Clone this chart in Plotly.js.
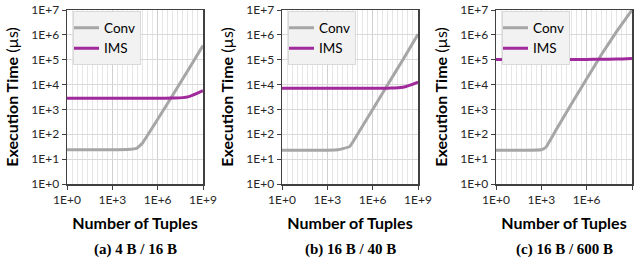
<!DOCTYPE html>
<html>
<head>
<meta charset="utf-8">
<script src="https://cdn.plot.ly/plotly-3.0.1.min.js"></script>
<style>html,body{margin:0;padding:0;background:#fff;}#chart{width:643px;height:274px;}</style>
</head>
<body>
<div id="chart"></div>
<script>
// ---- data ----
const seriesNames = ["Conv", "IMS"];
const captions = ["(a) 4 B / 16 B", "(b) 16 B / 40 B", "(c) 16 B / 600 B"];

const tuplesA = [1, 10, 100, 1e3, 1e4, 4e4, 1e5, 1e6, 1e7, 1e8, 1e9];
const convA   = [24, 24, 24, 24, 24.5, 27, 45, 400, 3800, 37000, 370000];
const imsXA   = [1, 10, 100, 1e3, 1e4, 1e5, 1e6, 1e7, 1e8, 1e9];
const imsA    = [2800, 2800, 2800, 2800, 2800, 2800, 2800, 2850, 3200, 5700];

const tuplesB = [1, 10, 100, 1e3, 5e3, 3e4, 1e5, 1e6, 1e7, 1e8, 1e9];
const convB   = [23, 23, 23, 23, 24, 32, 100, 1000, 10000, 100000, 1050000];
const imsXB   = [1, 10, 100, 1e3, 1e4, 1e5, 1e6, 1e7, 1e8, 1e9];
const imsB    = [7100, 7100, 7100, 7100, 7100, 7100, 7100, 7150, 7800, 12600];

const tuplesC = [1, 10, 100, 1e3, 2e3, 1e4, 1e5, 1e6, 1e7, 1e8, 1e9];
const convC   = [23, 23, 23, 24, 30, 160, 1700, 17000, 170000, 1400000, 10000000];
const imsXC   = [1, 10, 100, 1e3, 1e4, 1e5, 1e6, 1e7, 1e8, 1e9];
const imsC    = [103000, 103000, 103000, 103000, 103000, 103000, 103000, 104000, 106000, 112000];

const xTickVals = [1, 1e3, 1e6, 1e9];
const xTickText = ["1E+0", "1E+3", "1E+6", "1E+9"];
const yTickVals = [1, 10, 100, 1e3, 1e4, 1e5, 1e6, 1e7];
const yTickText = ["1E+0", "1E+1", "1E+2", "1E+3", "1E+4", "1E+5", "1E+6", "1E+7"];

// ---- styling ----
const convColor = "#a6a6a6";
const imsColor = "#a0299b";
const font = "Lato, 'Open Sans', sans-serif";

// minor grid positions: 8 lines between each major (every 1/3 decade)
const minorVals = [];
for (let k = 0; k <= 27; k++) { if (k % 9 !== 0) minorVals.push(Math.pow(10, k / 3)); }

const panels = [
  {x: tuplesA, conv: convA, ix: imsXA, ims: imsA},
  {x: tuplesB, conv: convB, ix: imsXB, ims: imsB},
  {x: tuplesC, conv: convC, ix: imsXC, ims: imsC}
];
const domains = [[67/643, 203/643], [282/643, 418/643], [496/643, 632/643]];

const traces = [];
const layout = {
  width: 643, height: 274,
  margin: {l: 0, r: 0, t: 10, b: 90},
  paper_bgcolor: "#fff", plot_bgcolor: "#fff",
  font: {family: font, size: 12, color: "#262626"},
  showlegend: true,
  annotations: []
};

panels.forEach((p, i) => {
  const n = i === 0 ? "" : String(i + 1);
  const legName = "legend" + n;
  traces.push({
    x: p.x, y: p.conv, name: seriesNames[0], type: "scatter", mode: "lines",
    line: {color: convColor, width: 3, shape: "spline", smoothing: 0.3},
    xaxis: "x" + n, yaxis: "y" + n, legend: legName
  });
  traces.push({
    x: p.ix, y: p.ims, name: seriesNames[1], type: "scatter", mode: "lines",
    line: {color: imsColor, width: 3, shape: "spline", smoothing: 0.8},
    xaxis: "x" + n, yaxis: "y" + n, legend: legName
  });
  layout["xaxis" + n] = {
    type: "log", range: [0, 9], domain: domains[i], anchor: "y" + n,
    tickmode: "array", tickvals: xTickVals, ticktext: xTickText,
    ticks: "outside", ticklen: 4, tickcolor: "#404040",
    showline: true, linecolor: "#404040", linewidth: 1.5, mirror: true,
    showgrid: true, gridcolor: "#d0d0d0", gridwidth: 1,
    minor: {tickmode: "array", tickvals: minorVals, showgrid: true, gridcolor: "#e6e6e6", gridwidth: 1},
    tickfont: {family: font, size: 12, color: "#262626"},
    zeroline: false, fixedrange: true, layer: "below traces",
    title: {text: "<b>Number of Tuples</b>", font: {family: font, size: 16, color: "#000"}, standoff: 12}
  };
  layout["yaxis" + n] = {
    type: "log", range: [0, 7], domain: [0, 1], anchor: "x" + n,
    tickmode: "array", tickvals: yTickVals, ticktext: yTickText,
    ticks: "outside", ticklen: 4, tickcolor: "#404040",
    showline: true, linecolor: "#404040", linewidth: 1.5, mirror: true,
    showgrid: true, gridcolor: "#d9d9d9", gridwidth: 1,
    tickfont: {family: font, size: 12, color: "#262626"},
    zeroline: false, fixedrange: true,
    title: {text: "<b>Execution Time</b> (µs)", font: {family: font, size: 16, color: "#000"}, standoff: 8}
  };
  layout[legName] = {
    x: (domains[i][0] * 643 + 6) / 643, y: 0.992, xanchor: "left", yanchor: "top",
    bgcolor: "#f2f2f2", bordercolor: "#d9d9d9", borderwidth: 1,
    font: {family: font, size: 13.5, color: "#000"},
    itemwidth: 30, tracegroupgap: 0, indentation: -10
  };
  layout.annotations.push({
    text: "<b>" + captions[i] + "</b>", xref: "paper", yref: "paper",
    x: (domains[i][0] + domains[i][1]) / 2, y: -0.375, xanchor: "center", yanchor: "middle",
    showarrow: false, font: {family: "'Liberation Serif', serif", size: 15, color: "#000"}
  });
});

Plotly.newPlot("chart", traces, layout, {staticPlot: true, displayModeBar: false});
</script>
</body>
</html>
